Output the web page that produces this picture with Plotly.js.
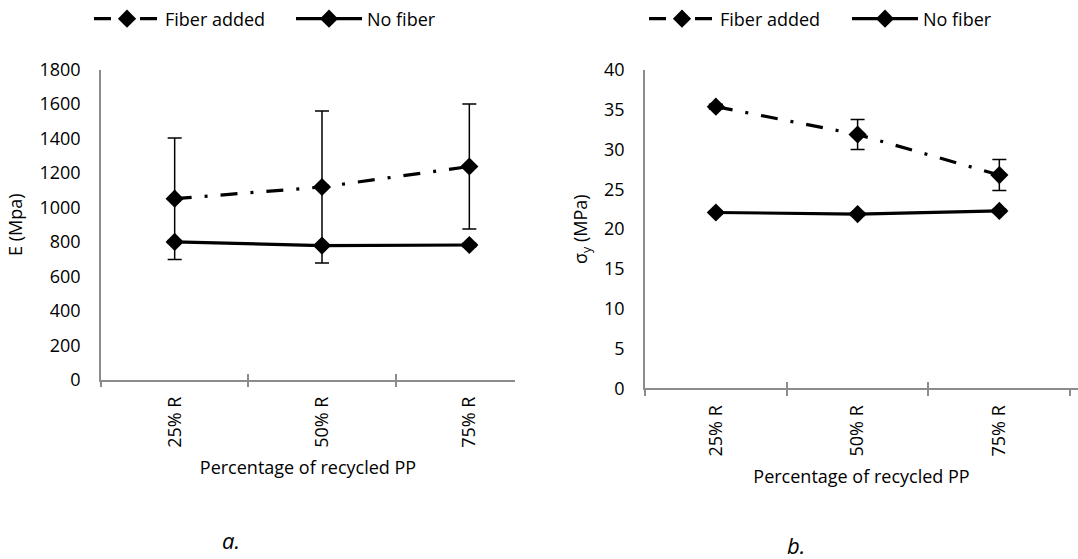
<!DOCTYPE html>
<html>
<head>
<meta charset="utf-8">
<script src="https://cdn.plot.ly/plotly-3.0.1.min.js"></script>
<style>html,body{margin:0;padding:0;background:#fff;}#chart{width:1078px;height:559px;}</style>
</head>
<body>
<div id="chart"></div>
<script>
// ---- data ----
const categories = ["25% R", "50% R", "75% R"];
const seriesNames = ["Fiber added", "No fiber"];
// Panel a: Young's modulus E (MPa)
const eFiber = [1051, 1119, 1238];
const eFiberErr = [353, 442, 363];
const eNoFiber = [800, 779, 782];
const eNoFiberErr = [8, 8, 10];
// Panel b: yield stress (MPa)
const sFiber = [35.4, 31.9, 26.8];
const sFiberErr = [0.3, 1.9, 1.95];
const sNoFiber = [22.1, 21.9, 22.3];
const sNoFiberErr = [0.2, 0.2, 0.2];
const boundaryTicks = [-0.5, 0.5, 1.5];

const FONT = "Open Sans, Noto Sans, sans-serif";
const AXIS = "#8c8c8c";
const FS = 18;
const dashDot = "17px,13px,3px,13px";

function tr(x, y, err, name, dash, xa, ya, legend) {
  return {
    type: "scatter", mode: "lines+markers", x: x, y: y, name: name,
    xaxis: xa, yaxis: ya, legend: legend,
    line: {color: "#000", width: 3.2, dash: dash},
    marker: {symbol: "diamond", size: 14, color: "#000"},
    error_y: {type: "data", array: err, visible: true, color: "#000", thickness: 1.5, width: 7}
  };
}
// invisible helper traces so the overlay axes (inner half of the cross tick marks) get drawn
function helper(xa, ya) {
  return {type: "scatter", mode: "markers", x: boundaryTicks, y: boundaryTicks.map(() => null),
    xaxis: xa, yaxis: ya, showlegend: false, hoverinfo: "skip", marker: {opacity: 0}};
}

const data = [
  tr(categories, eFiber, eFiberErr, seriesNames[0], dashDot, "x", "y", "legend"),
  tr(categories, eNoFiber, eNoFiberErr, seriesNames[1], "solid", "x", "y", "legend"),
  tr(categories, sFiber, sFiberErr, seriesNames[0], dashDot, "x2", "y2", "legend2"),
  tr(categories, sNoFiber, sNoFiberErr, seriesNames[1], "solid", "x2", "y2", "legend2"),
  helper("x3", "y"),
  helper("x4", "y2")
];

const W = 1078, H = 559;
function px(x) { return x / W; }
function py(y) { return 1 - y / H; }
const txt = {family: FONT, size: FS, color: "#000"};

const xBase = {
  type: "category", showline: true, linecolor: AXIS, linewidth: 1.5,
  ticks: "outside", tickson: "boundaries", ticklen: 6, tickwidth: 1.5, tickcolor: AXIS,
  tickangle: -90, ticklabelstandoff: 8, showgrid: false, zeroline: false,
  tickfont: txt,
  title: {text: "Percentage of recycled PP", font: txt, standoff: 15}
};
const yBase = {
  showline: true, linecolor: AXIS, linewidth: 1.5, ticks: "", showgrid: false, zeroline: false,
  ticklabelstandoff: 15, tickfont: txt
};
const xInner = {
  type: "linear", showline: false, showgrid: false, zeroline: false, showticklabels: false,
  ticks: "inside", ticklen: 6, tickwidth: 1.5, tickcolor: AXIS, tickmode: "array", tickvals: boundaryTicks
};

const layout = {
  width: W, height: H, margin: {l: 0, r: 0, t: 0, b: 0},
  paper_bgcolor: "#fff", plot_bgcolor: "rgba(0,0,0,0)",
  font: txt,
  xaxis: Object.assign({}, xBase, {domain: [px(101), px(515)], range: [-0.5, 2.31], anchor: "y"}),
  yaxis: Object.assign({}, yBase, {domain: [py(379), py(68)], range: [0, 1800], dtick: 200, anchor: "x",
    title: {text: "E (Mpa)", font: txt, standoff: 12}}),
  xaxis2: Object.assign({}, xBase, {domain: [px(645), 1], range: [-0.5, 2.555], anchor: "y2"}),
  yaxis2: Object.assign({}, yBase, {domain: [py(387.7), py(68.3)], range: [0, 40], dtick: 5, anchor: "x2",
    title: {text: "σ<sub>y</sub> (MPa)", font: txt, standoff: 12}}),
  xaxis3: Object.assign({}, xInner, {overlaying: "x", anchor: "y", range: [-0.5, 2.31]}),
  xaxis4: Object.assign({}, xInner, {overlaying: "x2", anchor: "y2", range: [-0.5, 2.555]}),
  legend: {orientation: "h", x: px(89), xanchor: "left", y: py(17), yanchor: "middle",
    itemwidth: 66, entrywidth: 121, entrywidthmode: "pixels", font: txt, bgcolor: "rgba(0,0,0,0)"},
  legend2: {orientation: "h", x: px(644), xanchor: "left", y: py(17), yanchor: "middle",
    itemwidth: 66, entrywidth: 122, entrywidthmode: "pixels", font: txt, bgcolor: "rgba(0,0,0,0)"},
  showlegend: true,
  annotations: [
    {text: "<i>a.</i>", xref: "paper", yref: "paper", x: px(231), y: py(540), xanchor: "center", yanchor: "middle",
     showarrow: false, font: {family: FONT, size: 22, color: "#000"}},
    {text: "<i>b.</i>", xref: "paper", yref: "paper", x: px(796), y: py(545), xanchor: "center", yanchor: "middle",
     showarrow: false, font: {family: FONT, size: 22, color: "#000"}}
  ]
};

Plotly.newPlot("chart", data, layout, {displayModeBar: false, responsive: false});
</script>
</body>
</html>
